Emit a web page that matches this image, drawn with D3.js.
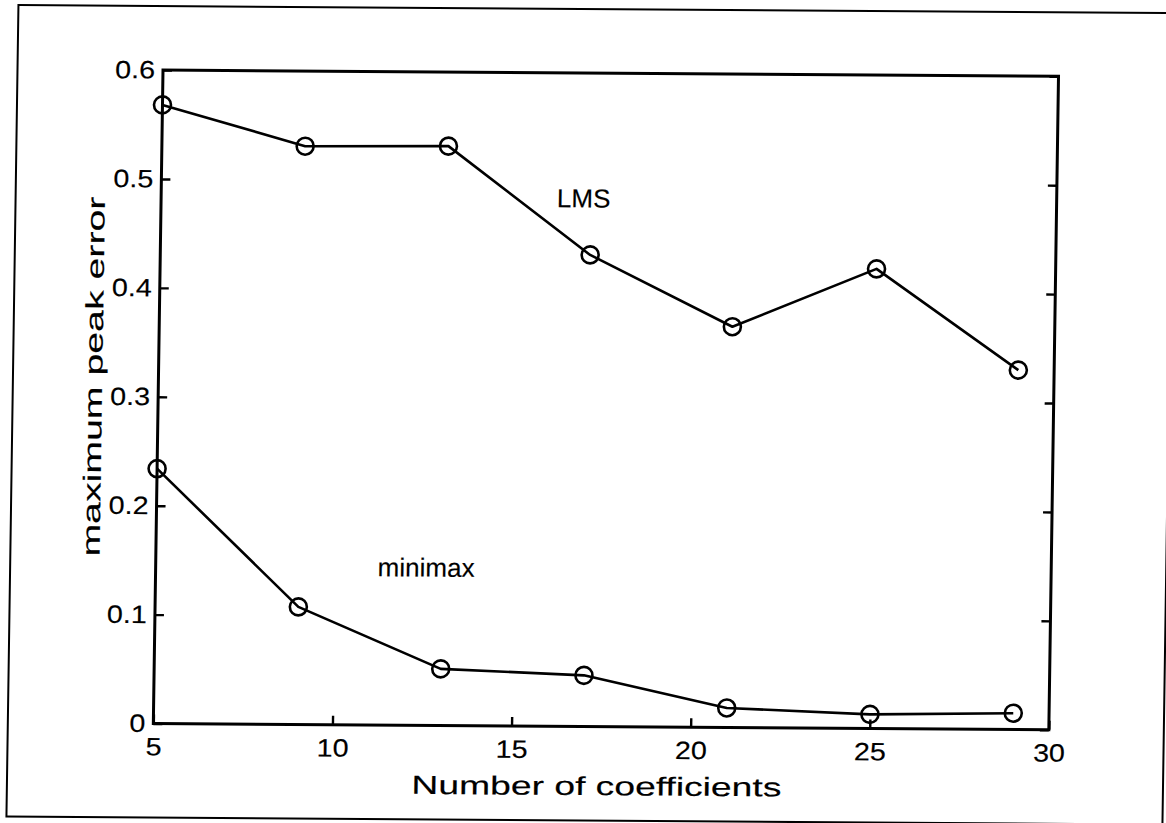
<!DOCTYPE html>
<html>
<head>
<meta charset="utf-8">
<script src="https://cdn.jsdelivr.net/npm/d3@7"></script>
<style>
  html, body { margin: 0; padding: 0; background: #fff; }
  svg { display: block; }
  text { font-family: "Liberation Sans", Arial, Helvetica, sans-serif; fill: #000; stroke: #000; stroke-width: 0.15px; }
</style>
</head>
<body>
<svg id="chart" width="1166" height="823"></svg>
<script>
// Peak error against filter length for the two design methods
const coefficients = [5, 9, 13, 17, 21, 25, 29];
const lmsError     = [0.568, 0.531, 0.532, 0.433, 0.368, 0.422, 0.330];
const minimaxError = [0.234, 0.108, 0.052, 0.047, 0.018, 0.013, 0.015];

const xTicks = [5, 10, 15, 20, 25, 30];
const yTicks = [0, 0.1, 0.2, 0.3, 0.4, 0.5, 0.6];
const xTickLabels = ["5", "10", "15", "20", "25", "30"];
const yTickLabels = ["0", "0.1", "0.2", "0.3", "0.4", "0.5", "0.6"];

const seriesNames = ["LMS", "minimax"];
const seriesLabelPos = [[16.05, 0.485], [11.2, 0.145]];

const box = { left: 158, right: 1053.5, top: 73, bottom: 726.5 };

const svg = d3.select("#chart");

// the printed page sits slightly skewed on the scanner
const a = 0.0148, b = 0.007, cx = 583, cy = 411;
const page = svg.append("g")
  .attr("transform", `matrix(1,${b},${-a},1,${a * cy},${-b * cx})`);

// outer figure frame
page.append("rect")
  .attr("x", 12.5).attr("y", 9)
  .attr("width", 1156).attr("height", 811.5)
  .attr("fill", "none").attr("stroke", "#000").attr("stroke-width", 2);

const x = d3.scaleLinear().domain([5, 30]).range([box.left, box.right]);
const y = d3.scaleLinear().domain([0, 0.6]).range([box.bottom, box.top]);

const tickFont = 25;
const tick = 9;

// widen glyphs a little, as the printed Helvetica runs wide
function widen(sel, k) {
  sel.each(function () {
    const w = this.getComputedTextLength();
    if (w > 0) {
      this.setAttribute("textLength", w * k);
      this.setAttribute("lengthAdjust", "spacingAndGlyphs");
    }
  });
}

function styleAxis(g) {
  g.select(".domain").remove();
  g.selectAll(".tick line").attr("stroke", "#000").attr("stroke-width", 2.4);
  g.selectAll(".tick text")
    .attr("font-size", tickFont)
    .attr("font-family", "Liberation Sans, Arial, sans-serif")
    .attr("fill", "#000")
    .call(widen, 1.15);
}

// bottom axis
page.append("g")
  .attr("transform", `translate(0,${box.bottom})`)
  .call(d3.axisBottom(x).tickValues(xTicks)
    .tickFormat((d, i) => xTickLabels[i])
    .tickSizeInner(-tick).tickSizeOuter(0).tickPadding(14))
  .call(styleAxis);

// left axis
page.append("g")
  .attr("transform", `translate(${box.left},0)`)
  .call(d3.axisLeft(y).tickValues(yTicks)
    .tickFormat((d, i) => yTickLabels[i])
    .tickSizeInner(-tick).tickSizeOuter(0).tickPadding(8))
  .call(styleAxis);

// right axis (ticks only)
page.append("g")
  .attr("transform", `translate(${box.right},0)`)
  .call(d3.axisRight(y).tickValues(yTicks)
    .tickFormat("")
    .tickSizeInner(-tick).tickSizeOuter(0))
  .call(styleAxis);

// axes box
page.append("rect")
  .attr("x", box.left).attr("y", box.top)
  .attr("width", box.right - box.left).attr("height", box.bottom - box.top)
  .attr("fill", "none").attr("stroke", "#000").attr("stroke-width", 3);

// axis titles
page.append("text")
  .attr("x", 602).attr("y", 795)
  .attr("text-anchor", "middle").attr("font-size", 26)
  .attr("textLength", 370).attr("lengthAdjust", "spacingAndGlyphs")
  .text("Number of coefficients");

page.append("text")
  .attr("transform", `translate(93,380) rotate(-90)`)
  .attr("text-anchor", "middle").attr("dy", "0.35em").attr("font-size", 25)
  .attr("textLength", 360).attr("lengthAdjust", "spacingAndGlyphs")
  .text("maximum peak error");

// series
const series = [lmsError, minimaxError];
const line = d3.line()
  .x((d, i) => x(coefficients[i]))
  .y(d => y(d));

series.forEach((vals, s) => {
  page.append("path")
    .datum(vals)
    .attr("d", line)
    .attr("fill", "none").attr("stroke", "#000").attr("stroke-width", 2.6)
    .attr("stroke-linejoin", "round");

  page.append("g").selectAll("circle")
    .data(vals)
    .join("circle")
    .attr("cx", (d, i) => x(coefficients[i]))
    .attr("cy", d => y(d))
    .attr("r", 8.5)
    .attr("fill", "none").attr("stroke", "#000").attr("stroke-width", 2.6);

  page.append("text")
    .attr("x", x(seriesLabelPos[s][0]))
    .attr("y", y(seriesLabelPos[s][1]))
    .attr("dy", "0.35em")
    .attr("font-size", 26)
    .text(seriesNames[s]);
});
</script>
</body>
</html>
